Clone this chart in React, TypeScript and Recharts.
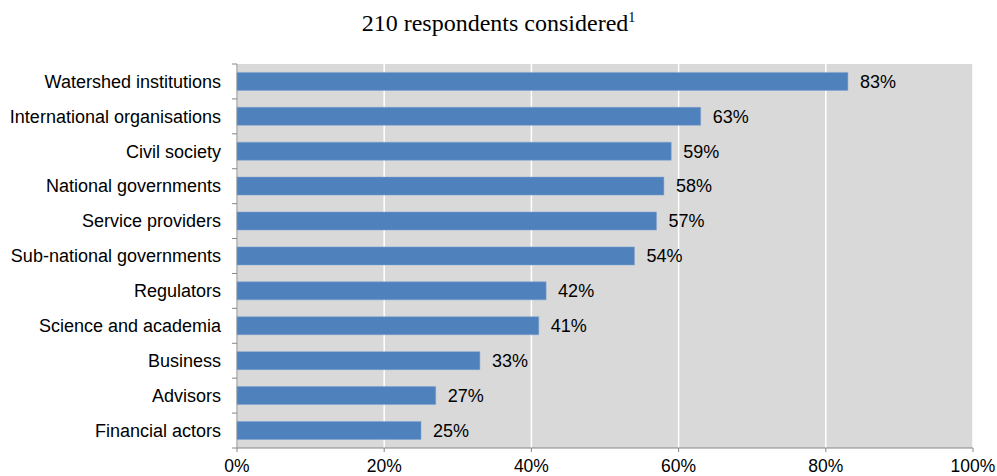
import React from 'react'
import { BarChart, Bar, XAxis, YAxis, CartesianGrid, LabelList } from 'recharts'

const categories = [
  'Watershed institutions',
  'International organisations',
  'Civil society',
  'National governments',
  'Service providers',
  'Sub-national governments',
  'Regulators',
  'Science and academia',
  'Business',
  'Advisors',
  'Financial actors',
]
const shares = [83, 63, 59, 58, 57, 54, 42, 41, 33, 27, 25]
const xTicks = [0, 20, 40, 60, 80, 100]

const data = categories.map((name, i) => ({ name, share: shares[i] }))

const W = 997
const H = 476
const TOP = 64
const LEFT = 237
const RIGHT = 24
const X_AXIS_H = 28
const AXIS = '#868686'
const FONT = '"Liberation Sans", Arial, sans-serif'

const bandHalf = (H - TOP - X_AXIS_H) / categories.length / 2

function CategoryTick(props: any) {
  const { y, payload, index } = props
  return (
    <g>
      <line x1={LEFT - 5} x2={LEFT} y1={y - bandHalf} y2={y - bandHalf} stroke={AXIS} />
      {index === categories.length - 1 && (
        <line x1={LEFT - 5} x2={LEFT} y1={y + bandHalf} y2={y + bandHalf} stroke={AXIS} />
      )}
      <text x={LEFT - 16} y={y} dy="0.35em" textAnchor="end" fontSize={18} fontFamily={FONT} fill="#000">
        {payload.value}
      </text>
    </g>
  )
}

export default function App() {
  return (
    <div style={{ position: 'absolute', left: 0, top: 0, width: W, height: H, background: '#fff' }}>
      <div
        style={{
          position: 'absolute',
          left: 0,
          width: W,
          top: 10,
          textAlign: 'center',
          fontFamily: '"Liberation Serif", "Times New Roman", serif',
          fontSize: 24,
          color: '#000',
        }}
      >
        210 respondents considered<sup style={{ fontSize: 14 }}>1</sup>
      </div>
      <BarChart
        width={W}
        height={H}
        data={data}
        layout="vertical"
        margin={{ top: TOP, right: RIGHT, left: 0, bottom: 0 }}
        barCategoryGap="24%"
      >
        <CartesianGrid fill="#d9d9d9" stroke="#ffffff" strokeWidth={1.5} horizontal={false} />
        <XAxis
          type="number"
          domain={[0, 100]}
          ticks={xTicks}
          tickFormatter={(v) => `${v}%`}
          height={X_AXIS_H}
          stroke={AXIS}
          tickSize={4}
          tickMargin={8}
          tick={{ fill: '#000', fontSize: 17.5, fontFamily: FONT }}
          interval={0}
        />
        <YAxis
          type="category"
          dataKey="name"
          width={LEFT}
          stroke={AXIS}
          tickLine={false}
          tick={<CategoryTick />}
          interval={0}
        />
        <Bar dataKey="share" fill="#4f81bd" stroke="#7da2d0" strokeWidth={0.5} isAnimationActive={false}>
          <LabelList
            dataKey="share"
            position="right"
            offset={12}
            formatter={(v: any) => `${v}%`}
            style={{ fill: '#000', fontSize: 18, fontFamily: FONT }}
          />
        </Bar>
      </BarChart>
    </div>
  )
}
